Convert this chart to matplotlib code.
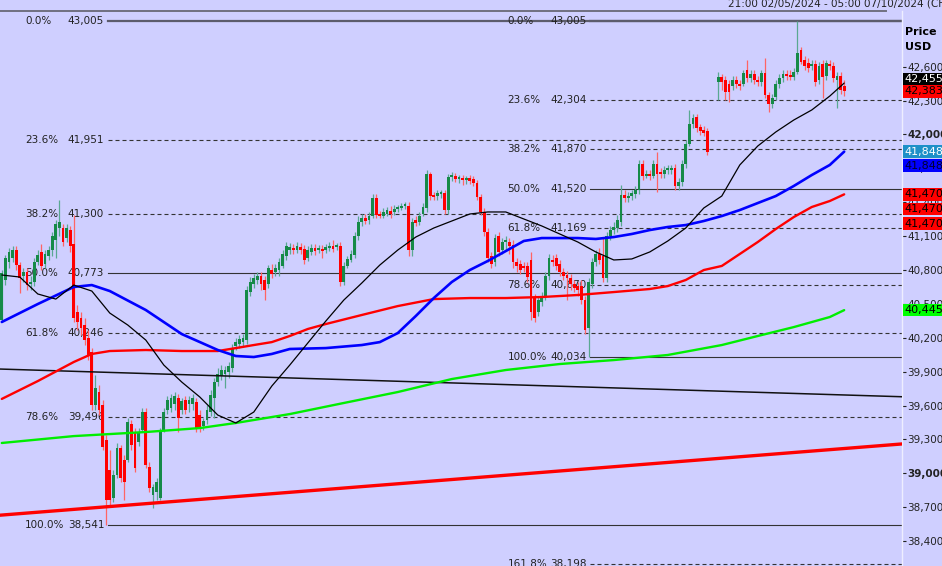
import numpy as np
import matplotlib
matplotlib.use("Agg")
import matplotlib.pyplot as plt
from matplotlib.transforms import blended_transform_factory

nan = float("nan")

# 4h candles, oldest first (nan = no candle, weekend gap)
opens = [
    40357, 40712, 40871, 40906, 40977, 40844, 40747, 40782, 40676, 40694,
    40871, 40960, 40853, 40924, 40977, 41066, 41172, 41172, 41083, 41154,
    41030, 40428, 40375, 40313, 40198, 40074, 39605, 39720, 39605, 39295,
    39029, 38782, 38985, 39224, 39118, 39118, 39436, 39366, 39277, 39383,
    39543, 39056, 38808, 38835, 38782, 39383, 39561, 39578, 39614, 39667,
    39561, 39649, 39614, 39614, 39632, 39516, 39419, 39472, 39543, 39667,
    39808, 39862, 39879, 39897, 39932, 40127, 40145, 40162, 40180, 40605,
    40676, 40712, 40747, 40712, 40676, 40800, 40782, 40800, 40836, 40924,
    40977, 40995, 40977, 41004, 40986, 40906, 40960, 40995, 40977, 40986,
    40977, 40995, 41013, 41004, 41013, 40694, 40836, 40889, 40933, 41101,
    41225, 41260, 41243, 41278, 41437, 41296, 41278, 41296, 41322, 41314,
    41340, 41349, 41367, 41367, 40977, 41243, 41225, 41296, 41349, 41650,
    41455, 41455, 41473, 41482, 41331, 41623, 41632, 41606, 41615, 41597,
    41615, 41606, 41570, 41446, 41314, 41137, 40924, 40871, 41101, 40977,
    41048, 41048, 41021, 40871, 40853, 40836, 40836, 40889, 40552, 40428,
    40517, 40570, 40747, 40889, 40906, 40853, 40782, 40756, 40729, 40676,
    40658, 40658, 40534, 40286, 40676, 40871, 40942, 40924, 40729, 41101,
    41154, 41172, 41225, 41464, 41437, 41455, 41473, 41508, 41739, 41632,
    41650, 41632, 41739, 41668, 41650, 41686, 41686, 41703, 41544, 41579,
    41739, 41915, 42093, 42155, 42066, 42040, 42031, nan, nan, 42464,
    42509, 42482, 42447, 42429, 42482, 42447, 42447, 42571, 42500, 42535,
    42482, 42464, 42544, 42349, 42270, 42332, 42447, 42500, 42535, 42526,
    42509, 42553, 42748, 42659, 42633, 42606, 42624, 42482, 42624, 42517,
    42624, 42606, 42482, 42517, 42429,
]
highs = [
    40800, 40933, 40995, 41013, 41013, 40871, 40818, 40818, 40747, 40906,
    40977, 41030, 40977, 41013, 41137, 41243, 41420, 41207, 41207, 41190,
    41287, 40490, 40428, 40375, 40269, 40109, 39870, 39782, 39649, 39340,
    39206, 39029, 39268, 39250, 39162, 39490, 39472, 39401, 39401, 39578,
    39578, 39100, 38906, 38958, 39401, 39578, 39685, 39702, 39720, 39702,
    39667, 39685, 39685, 39702, 39667, 39561, 39490, 39605, 39738, 39844,
    39932, 39959, 39950, 39986, 40145, 40198, 40224, 40233, 40658, 40738,
    40765, 40782, 40782, 40747, 40844, 40853, 40853, 40906, 40977, 41048,
    41039, 41030, 41048, 41039, 41021, 41013, 41030, 41030, 41021, 41021,
    41030, 41048, 41066, 41039, 41048, 40871, 40924, 40977, 41137, 41278,
    41296, 41296, 41314, 41473, 41473, 41322, 41349, 41358, 41367, 41375,
    41375, 41393, 41402, 41402, 41260, 41278, 41314, 41393, 41686, 41668,
    41491, 41508, 41508, 41508, 41650, 41668, 41659, 41641, 41641, 41632,
    41641, 41632, 41597, 41473, 41349, 41172, 40960, 41119, 41137, 41083,
    41101, 41083, 41066, 40906, 40889, 40871, 40871, 40960, 40588, 40570,
    40605, 40782, 40942, 40933, 40942, 40889, 40818, 40791, 40765, 40712,
    40694, 40712, 40570, 40729, 40906, 40977, 40995, 41092, 41137, 41190,
    41225, 41287, 41553, 41508, 41491, 41508, 41544, 41774, 41774, 41686,
    41686, 41774, 41845, 41703, 41721, 41730, 41730, 41739, 41615, 41774,
    41951, 42217, 42181, 42181, 42093, 42075, 42057, nan, nan, 42553,
    42535, 42517, 42482, 42517, 42517, 42482, 42571, 42659, 42571, 42571,
    42517, 42571, 42677, 42376, 42358, 42482, 42535, 42571, 42571, 42571,
    42588, 43005, 42774, 42695, 42677, 42659, 42659, 42642, 42659, 42659,
    42659, 42642, 42553, 42553, 42482,
]
lows = [
    40340, 40667, 40818, 40871, 40800, 40596, 40694, 40623, 40623, 40658,
    40844, 40800, 40818, 40889, 40924, 40906, 41101, 41013, 41048, 40960,
    40340, 40269, 40224, 40136, 40003, 39561, 39561, 39516, 39206, 38541,
    38720, 38746, 38958, 38923, 38764, 39100, 39206, 39011, 39242, 39366,
    39047, 38835, 38693, 38764, 38764, 39366, 39525, 39543, 39561, 39366,
    39525, 39525, 39543, 39561, 39366, 39366, 39383, 39436, 39507, 39490,
    39773, 39826, 39756, 39844, 39897, 40092, 40109, 40127, 40145, 40570,
    40641, 40676, 40623, 40534, 40641, 40729, 40747, 40747, 40818, 40889,
    40942, 40942, 40951, 40942, 40853, 40880, 40933, 40933, 40951, 40906,
    40951, 40968, 40960, 40977, 40658, 40667, 40818, 40871, 40906, 41066,
    41190, 41207, 41207, 41260, 41260, 41260, 41260, 41278, 41260, 41287,
    41314, 41331, 41340, 40924, 40924, 41190, 41198, 41278, 41314, 41420,
    41420, 41420, 41437, 41296, 41296, 41588, 41579, 41570, 41553, 41562,
    41562, 41544, 41420, 41287, 41101, 40871, 40818, 40836, 40924, 40942,
    40977, 40942, 40818, 40782, 40765, 40782, 40694, 40357, 40340, 40393,
    40481, 40534, 40712, 40836, 40800, 40747, 40712, 40534, 40623, 40605,
    40570, 40499, 40233, 40034, 40641, 40836, 40853, 40694, 40694, 41066,
    41119, 41137, 41190, 41402, 41402, 41420, 41437, 41473, 41597, 41615,
    41597, 41615, 41491, 41615, 41615, 41650, 41650, 41508, 41508, 41544,
    41703, 41898, 42057, 42022, 41995, 41986, 41818, nan, nan, 42305,
    42394, 42305, 42287, 42394, 42411, 42394, 42429, 42464, 42464, 42447,
    42429, 42429, 42323, 42199, 42234, 42305, 42411, 42464, 42482, 42482,
    42482, 42535, 42624, 42571, 42553, 42571, 42429, 42447, 42323, 42482,
    42571, 42464, 42234, 42358, 42340,
]
closes = [
    40774, 40906, 40960, 40977, 40844, 40729, 40782, 40667, 40694, 40871,
    40933, 40836, 40942, 40977, 41101, 41207, 41225, 41048, 41172, 41013,
    40375, 40340, 40286, 40180, 40039, 39605, 39756, 39561, 39233, 38764,
    38764, 38985, 39224, 38958, 38923, 39454, 39250, 39047, 39366, 39543,
    39073, 38870, 38879, 38923, 39366, 39543, 39649, 39667, 39685, 39490,
    39640, 39561, 39649, 39667, 39401, 39401, 39463, 39561, 39693, 39808,
    39879, 39915, 39915, 39950, 40109, 40162, 40189, 40198, 40623, 40694,
    40729, 40747, 40676, 40623, 40818, 40765, 40818, 40871, 40942, 41013,
    41004, 40977, 41013, 40977, 40889, 40977, 40995, 40968, 40995, 40968,
    41004, 41013, 40986, 41013, 40694, 40836, 40898, 40942, 41101, 41225,
    41260, 41234, 41278, 41437, 41287, 41278, 41314, 41331, 41296, 41340,
    41349, 41367, 41375, 40977, 41225, 41216, 41278, 41358, 41650, 41455,
    41446, 41482, 41482, 41331, 41623, 41632, 41606, 41615, 41597, 41615,
    41588, 41570, 41446, 41314, 41137, 40906, 40853, 41083, 40960, 41048,
    41066, 41013, 40871, 40836, 40800, 40818, 40738, 40428, 40375, 40534,
    40570, 40747, 40906, 40871, 40836, 40782, 40747, 40729, 40676, 40641,
    40623, 40534, 40269, 40694, 40871, 40942, 40889, 40729, 41101, 41154,
    41181, 41243, 41464, 41437, 41455, 41482, 41508, 41739, 41632, 41650,
    41632, 41739, 41650, 41650, 41686, 41694, 41703, 41544, 41579, 41739,
    41915, 42093, 42146, 42057, 42031, 42013, 41845, nan, nan, 42509,
    42464, 42376, 42376, 42482, 42447, 42429, 42544, 42500, 42535, 42482,
    42464, 42544, 42349, 42270, 42323, 42447, 42500, 42535, 42517, 42509,
    42553, 42721, 42642, 42606, 42588, 42624, 42464, 42606, 42509, 42633,
    42606, 42500, 42517, 42394, 42383,
]

# moving averages, sampled at candle indices
black_ma_idx = [0, 5, 10, 15, 20, 25, 30, 35, 40, 45, 50, 55, 60, 65, 70, 75,
                80, 85, 90, 95, 100, 105, 110, 115, 120, 125, 130, 135, 140,
                145, 150, 155, 160, 165, 170, 175, 180, 185, 190, 195, 200,
                205, 210, 215, 220, 225, 230, 234]
black_ma = [40756, 40738, 40588, 40543, 40667, 40614, 40419, 40313, 40180,
            39959, 39808, 39676, 39516, 39446, 39543, 39773, 39959, 40154,
            40348, 40534, 40685, 40844, 40977, 41092, 41172, 41234, 41296,
            41314, 41314, 41252, 41190, 41119, 41048, 40960, 40889, 40898,
            40960, 41057, 41172, 41349, 41455, 41730, 41898, 42022, 42128,
            42217, 42340, 42455]
blue_ma_idx = [0, 10, 20, 25, 30, 40, 50, 60, 65, 70, 75, 80, 90, 100, 105,
               110, 115, 120, 125, 130, 135, 140, 145, 150, 160, 165, 170,
               175, 180, 185, 190, 195, 200, 205, 210, 215, 220, 225, 230, 234]
blue_ma = [40340, 40499, 40650, 40667, 40614, 40446, 40233, 40092, 40039,
           40030, 40057, 40101, 40109, 40136, 40162, 40242, 40393, 40552,
           40694, 40800, 40880, 40968, 41057, 41083, 41083, 41075, 41092,
           41119, 41154, 41181, 41198, 41234, 41278, 41331, 41393, 41455,
           41544, 41641, 41730, 41848]
red_ma_idx = [0, 10, 20, 25, 30, 40, 50, 60, 65, 70, 75, 80, 85, 90, 100, 110,
              120, 130, 140, 150, 160, 170, 180, 185, 190, 195, 200, 205, 210,
              215, 220, 225, 230, 234]
red_ma = [39659, 39817, 39986, 40057, 40083, 40092, 40083, 40083, 40109, 40136,
          40162, 40216, 40278, 40322, 40402, 40481, 40543, 40552, 40552, 40561,
          40579, 40605, 40632, 40658, 40712, 40800, 40836, 40942, 41048, 41163,
          41269, 41358, 41411, 41470]
green_ma_idx = [0, 20, 40, 55, 65, 80, 95, 110, 125, 140, 155, 170, 185, 200,
                210, 220, 230, 234]
green_ma = [39269, 39330, 39366, 39401, 39446, 39525, 39623, 39720, 39835,
            39915, 39968, 40003, 40048, 40136, 40216, 40295, 40384, 40445]

# trend lines: two anchor points (candle index, price)
black_trend = [(0, 39923), (234, 39694)]
red_trend = [(0, 38631), (234, 39220)]

# fibonacci retracements
fib_pcts = ["0.0%", "23.6%", "38.2%", "50.0%", "61.8%", "78.6%", "100.0%"]
fib_left = [43005, 41951, 41300, 40773, 40246, 39496, 38541]
fib_left_start = 29
fib_right = [43005, 42304, 41870, 41520, 41169, 40670, 40034]
fib_right_start = 163
fib_ext_pct = "161.8%"
fib_ext = 38198

axis_ticks = [42600, 42300, 42000, 41700, 41400, 41100, 40800, 40500, 40200,
              39900, 39600, 39300, 39000, 38700, 38400]
bold_ticks = [42000, 39000]

tag_values = [42455, 42383, 41848, 41848, 41470, 41470, 41470, 40445]
tag_face = ["black", "#ff0000", "#1e90c8", "#0000ff", "#ff0000", "#ff0000",
            "#ff0000", "#00ff00"]
tag_text = ["white", "black", "white", "#000033", "black", "black", "black",
            "black"]
tag_shift = [3, 0, 0, -10, 0, -10.5, -21, 0]   # points, to stack the boxes

header = "21:00 02/05/2024 - 05:00 07/10/2024 (CFD)"

bg = "#cfcfff"
W, H = 942, 566

fig = plt.figure(figsize=(W / 100, H / 100), dpi=100, facecolor=bg)
ax = fig.add_axes([0, 0, 902 / W, 555 / H], facecolor=bg)
x_lo, x_hi = -0.5, 250.06
ax.set_xlim(x_lo, x_hi)
ax.set_ylim(38180, 43093)

for s in ["top", "left", "bottom"]:
    ax.spines[s].set_visible(False)
ax.spines["right"].set_color("#eeeeff")
ax.spines["right"].set_linewidth(1.0)

# fib levels
fib_kw = dict(color="#333333", lw=0.8, zorder=2)
solid = {"0.0%", "50.0%", "100.0%"}
for start, vals in [(fib_left_start, fib_left), (fib_right_start, fib_right)]:
    for pct, v in zip(fib_pcts, vals):
        ls = "-" if pct in solid else (0, (3.6, 2.7))
        if pct == "0.0%":
            ax.plot([start + 0.4, x_hi], [v, v], color="#5c5c6c", lw=1.6,
                    zorder=2)
        else:
            ax.plot([start + 0.4, x_hi], [v, v], ls=ls, **fib_kw)
        ax.text(start - 22.5, v, pct, fontsize=7.5, color="#222222",
                va="center", ha="left", zorder=2.5)
        ax.text(start - 10.7, v, f"{v:,}", fontsize=7.5, color="#222222",
                va="center", ha="left", zorder=2.5)
ax.plot([fib_right_start + 0.4, x_hi], [fib_ext, fib_ext], ls=(0, (3.6, 2.7)),
        **fib_kw)
ax.text(fib_right_start - 22.5, fib_ext, fib_ext_pct, fontsize=7.5,
        color="#222222", va="center", ha="left", zorder=2.5)
ax.text(fib_right_start - 10.7, fib_ext, f"{fib_ext:,}", fontsize=7.5,
        color="#222222", va="center", ha="left", zorder=2.5)

# candles
o = np.array(opens, float)
h = np.array(highs, float)
l = np.array(lows, float)
c = np.array(closes, float)
idx = np.arange(len(o))
ok = ~np.isnan(o)
up = ok & (c >= o)
dn = ok & (c < o)
body_lo = np.minimum(o, c)
body_h = np.maximum(np.abs(c - o), 14)
ax.vlines(idx[up], l[up], h[up], color="#5aa892", lw=0.9, zorder=3)
ax.vlines(idx[dn], l[dn], h[dn], color="#ff6464", lw=0.9, zorder=3)
ax.bar(idx[up], body_h[up], bottom=body_lo[up], width=0.8, color="#168a48",
       lw=0, zorder=4)
ax.bar(idx[dn], body_h[dn], bottom=body_lo[dn], width=0.8, color="#ff0000",
       lw=0, zorder=4)


def trend(pts):
    (x0, y0), (x1, y1) = pts
    k = (y1 - y0) / (x1 - x0)
    return [x_lo, x_hi], [y0 + k * (x_lo - x0), y0 + k * (x_hi - x0)]


tx, ty = trend(black_trend)
ax.plot(tx, ty, color="#111111", lw=1.1, zorder=5)
tx, ty = trend(red_trend)
ax.plot(tx, ty, color="#ff0000", lw=2.4, zorder=5)

# moving averages
ma_kw = dict(solid_joinstyle="round", solid_capstyle="round")
ax.plot(green_ma_idx, green_ma, color="#00ee00", lw=1.7, zorder=5, **ma_kw)
ax.plot(red_ma_idx, red_ma, color="#ff0000", lw=1.7, zorder=5, **ma_kw)
ax.plot(blue_ma_idx, blue_ma, color="#0000ff", lw=1.9, zorder=5, **ma_kw)
ax.plot(black_ma_idx, black_ma, color="#000000", lw=0.9, zorder=6, **ma_kw)

# right price axis
ax.yaxis.tick_right()
ax.set_yticks(axis_ticks)
ax.set_yticklabels([f"{t:,}" for t in axis_ticks])
ax.tick_params(axis="y", direction="out", length=3, width=0.8, pad=1,
               labelsize=7.5, colors="#222222")
for lab, t in zip(ax.get_yticklabels(), axis_ticks):
    if t in bold_ticks:
        lab.set_fontweight("bold")
ax.tick_params(axis="x", bottom=False, labelbottom=False)

# price tags on the axis
tr = blended_transform_factory(ax.transAxes, ax.transData)
for v, fc, tc, dy in zip(tag_values, tag_face, tag_text, tag_shift):
    ax.annotate(f"{v:,}", xy=(1.0, v), xycoords=tr, xytext=(1.5, dy),
                textcoords="offset points", fontsize=8, color=tc, va="center",
                ha="left", annotation_clip=False, zorder=10,
                bbox=dict(boxstyle="square,pad=0.12", fc=fc, ec="none"))

# header strip
fig.add_artist(plt.Line2D([0, 886 / W], [1 - 11 / H, 1 - 11 / H],
                          color="#707080", lw=1.4))
fig.text(728 / W, 1 - 3 / H, header, fontsize=7.5, color="#222222",
         ha="left", va="center")
fig.text(905 / W, 1 - 32 / H, "Price", fontsize=8, fontweight="bold",
         ha="left", va="center")
fig.text(905 / W, 1 - 47 / H, "USD", fontsize=8, fontweight="bold",
         ha="left", va="center")

fig.savefig("out.png", dpi=100, facecolor=bg)
